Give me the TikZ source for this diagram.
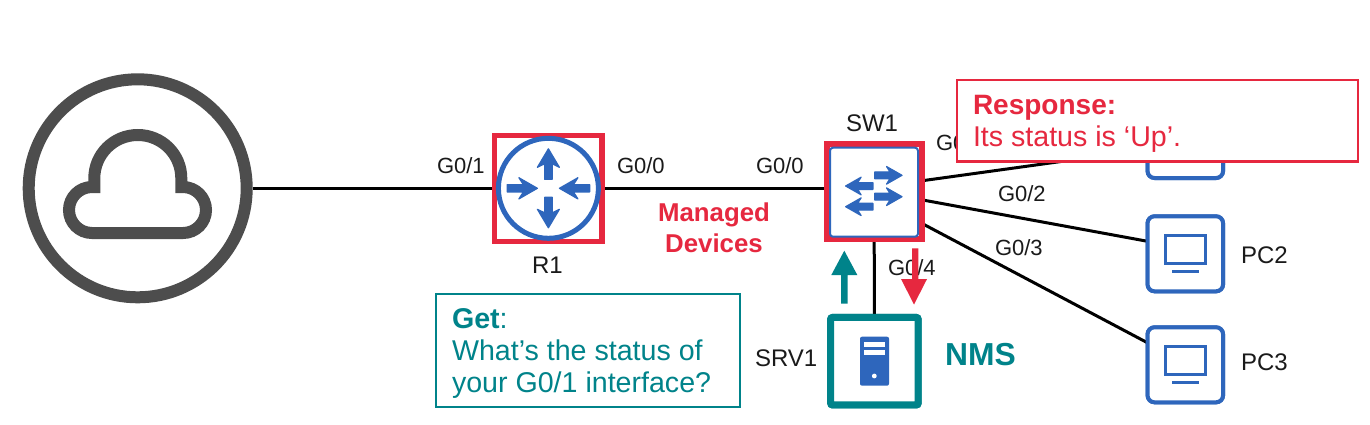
\documentclass[tikz,border=0pt]{standalone}
\usepackage{fontspec}
\setmainfont{Liberation Sans}
\definecolor{netred}{HTML}{E6283F}
\definecolor{netteal}{HTML}{00838A}
\definecolor{netblue}{HTML}{2E66BC}
\definecolor{netgray}{HTML}{4D4D4D}
\definecolor{nettext}{HTML}{1A1A1A}
\newcommand{\fs}[1]{\fontsize{#1}{#1}\selectfont}
\tikzset{
  link/.style={draw=black,line width=3pt},
  devbox/.style={rectangle,fill=white,inner sep=0pt,outer sep=0pt},
  redframe/.style={devbox,draw=netred,line width=6pt,minimum width=95pt,minimum height=95pt},
  routerframe/.style={devbox,draw=netred,line width=5.5pt,minimum width=107.5pt,minimum height=106pt},
  srvframe/.style={devbox,draw=netteal,line width=7pt,minimum width=87.5pt,minimum height=87.5pt,rounded corners=2pt},
  pcframe/.style={devbox,draw=netblue,line width=4pt,minimum width=75.5pt,minimum height=75pt,rounded corners=7pt},
  lbl/.style={anchor=base west,inner sep=0pt,outer sep=0pt,text=nettext,font=\fs{22}},
  devlbl/.style={lbl,font=\fs{24}},
  callout/.style={rectangle,fill=white,inner sep=0pt,outer sep=0pt},
  ctext/.style={anchor=base west,inner sep=0pt,outer sep=0pt,font=\fs{28.6}},
  glyph/.style={fill=netblue,draw=netblue,line width=1.2pt,line join=round},
}
\begin{document}
\begin{tikzpicture}[x=1pt,y=-1pt]
\useasboundingbox (0,0) rectangle (1370,424);
\fill[white] (0,0) rectangle (1370,424);

\node[circle,inner sep=0pt,outer sep=0pt,minimum size=230pt] (cloud) at (137.7,188.3) {};
\node[routerframe] (r1) at (548.4,188.3) {};
\node[redframe] (sw1) at (874.2,191.8) {};
\node[srvframe] (srv1) at (874.4,361.2) {};
\node[pcframe] (pc1) at (1185.3,140.5) {};
\node[pcframe] (pc2) at (1185.3,253.8) {};
\node[pcframe] (pc3) at (1185.3,364.8) {};

% connectors
\draw[link] (cloud.east) -- (r1.west);
\draw[link] (r1.east) -- ([yshift=3.5pt]sw1.west);
\draw[link] (sw1.south) -- (srv1.north);
\draw[link] ([yshift=11pt]sw1.east) -- ([yshift=-9pt]pc1.west);
\draw[link] ([yshift=-8pt]sw1.east) -- ([yshift=12.5pt]pc2.west);
\draw[link] ([yshift=-31.5pt]sw1.east) -- ([yshift=22pt]pc3.west);

% frames over connectors
\node[routerframe] at (r1) {};
\node[redframe] at (sw1) {};
\node[srvframe] at (srv1) {};
\node[pcframe] at (pc1) {};
\node[pcframe] at (pc2) {};
\node[pcframe] at (pc3) {};

% cloud
\draw[netgray,line width=12pt] (cloud.center) circle[radius=109pt];
\draw[netgray,line width=12pt,line join=miter,miter limit=4]
  (92,233) .. controls (79.3,233) and (69,222.7) .. (69,210)
  .. controls (69,197.3) and (79.3,187) .. (92,187)
  -- (94.3,187) -- (94.3,178.3)
  .. controls (94.3,154.4) and (113.6,135) .. (137.8,135)
  .. controls (162,135) and (181.3,154.4) .. (181.3,178.3)
  -- (181.3,187) -- (183,187)
  .. controls (195.7,187) and (206,197.3) .. (206,210)
  .. controls (206,222.7) and (195.7,233) .. (183,233) -- cycle;

% router
\draw[netblue,line width=5pt] (r1.center) circle[radius=50pt];
\foreach \a in {0,180}{
  \path[glyph,shift={(r1.center)},rotate=\a]
    (0,-39.5) -- (11,-21) -- (3.8,-24.5) -- (3.8,-9) -- (-3.8,-9) -- (-3.8,-24.5) -- (-11,-21) -- cycle;
}
\foreach \a in {90,270}{
  \path[glyph,shift={(r1.center)},rotate=\a]
    (0,-11) -- (10.6,-29.5) -- (3.6,-25) -- (3.6,-41.3) -- (-3.6,-41.3) -- (-3.6,-25) -- (-10.6,-29.5) -- cycle;
}

% switch
\draw[netblue,line width=2pt,fill=white,rounded corners=3pt] (830,147.7) rectangle (918,236.7);
\foreach \cy in {175.3,196.7}{
  \path[glyph,shift={(888,\cy)}]
    (14,0) -- (-1.5,8.8) -- (2,3.4) -- (-13.3,3.4) -- (-13.3,-3.4) -- (2,-3.4) -- (-1.5,-8.8) -- cycle;
}
\foreach \cy in {186,206.7}{
  \path[glyph,shift={(859.6,\cy)},xscale=-1]
    (14,0) -- (-1.5,8.8) -- (2,3.4) -- (-13.3,3.4) -- (-13.3,-3.4) -- (2,-3.4) -- (-1.5,-8.8) -- cycle;
}

% server icon
\fill[netblue,rounded corners=2pt] (860,336.7) rectangle (889,385.7);
\fill[white] (864,341.7) rectangle (885,346.7);
\fill[white] (864,350) rectangle (885,355.3);
\fill[white] (874.3,376) circle[radius=2.4pt];

% pc icons
\foreach \n in {pc1,pc2,pc3}{
  \draw[netblue,line width=2.8pt,shift={(\n.center)}] (-19.5,-18) rectangle (20.5,9.5);
  \draw[netblue,line width=2.8pt,shift={(\n.center)}] (-13,18) -- (14,18);
}

% labels
\node[lbl] (l1) at (437,173) {G0/1};
\node[lbl] (l2) at (617,173) {G0/0};
\node[lbl] (l3) at (756,173) {G0/0};
\node[lbl] (l4) at (936,150) {G0/1};
\node[lbl] (l5) at (998,201) {G0/2};
\node[lbl] (l6) at (995,255) {G0/3};
\node[lbl] (l7) at (888,275) {G0/4};
\node[devlbl] (n1) at (532,273) {R1};
\node[devlbl] (n2) at (846,131) {SW1};
\node[devlbl] (n3) at (755,366) {SRV1};
\node[devlbl] (n4) at (1241,263) {PC2};
\node[devlbl] (n5) at (1241,370) {PC3};
\node[anchor=base west,inner sep=0pt,text=netteal,font=\fs{31.8}\bfseries] (nms) at (945,365) {NMS};
\node[anchor=base,inner sep=0pt,text=netred,font=\fs{25.8}\bfseries] (m1) at (714,221) {Managed};
\node[anchor=base,inner sep=0pt,text=netred,font=\fs{25.8}\bfseries] (m2) at (714,252) {Devices};

% flow arrows
\fill[netteal] (844.3,250.7) -- (857.3,275) -- (847.6,275) -- (847.6,303.5) -- (841,303.5) -- (841,275) -- (831.3,275) -- cycle;
\fill[netred] (914,304.5) -- (927,279) -- (918.4,279) -- (918.4,248.3) -- (912,248.3) -- (912,279) -- (901,279) -- cycle;

% callouts
\node[callout,draw=netred,line width=2.5pt,minimum width=401pt,minimum height=81.5pt] (resp) at (1157.3,120.8) {};
\node[ctext,text=netred,font=\fs{28}] at (973,114) {\bfseries Response:};
\node[ctext,text=netred] at (973,146) {Its status is ‘Up’.};
\node[callout,draw=netteal,line width=2.5pt,minimum width=304pt,minimum height=113pt] (get) at (588,350.5) {};
\node[ctext,text=netteal] at (452,328) {{\bfseries Get}:};
\node[ctext,text=netteal] at (452,360) {What’s the status of};
\node[ctext,text=netteal] at (452,392) {your G0/1 interface?};
\end{tikzpicture}
\end{document}
